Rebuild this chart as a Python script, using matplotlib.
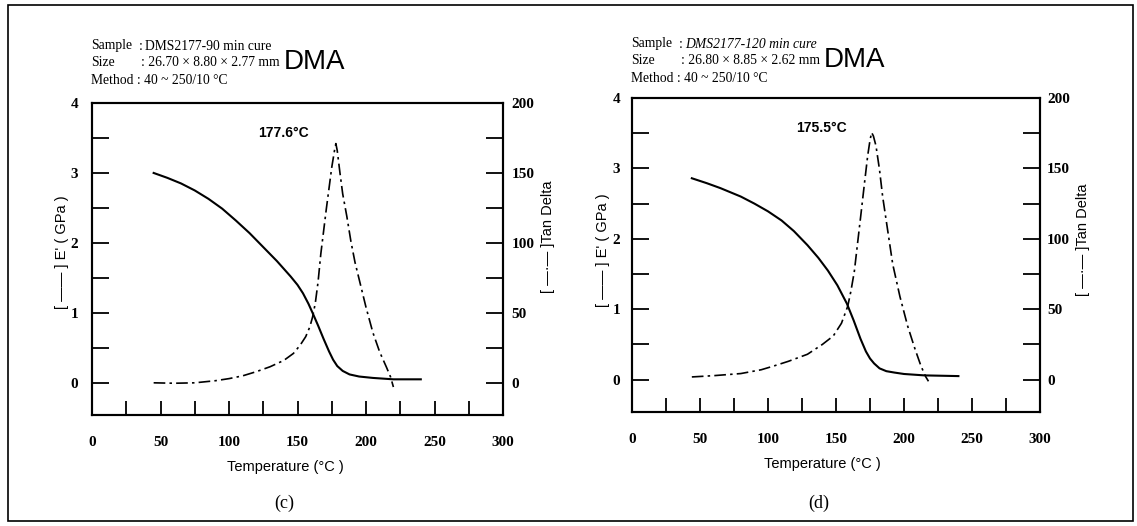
import matplotlib
matplotlib.use('Agg')
import matplotlib.pyplot as plt
from matplotlib.patches import Rectangle

# ---------------- data ----------------
c_E_temp = [45, 55, 65, 75, 85, 95, 105, 115, 125, 135, 140, 145, 150, 154, 158, 161, 165,
            169, 173, 176, 179, 183, 188, 195, 205, 220, 240]
c_E_mod = [3.00, 2.93, 2.85, 2.75, 2.63, 2.49, 2.32, 2.14, 1.94, 1.74, 1.63, 1.52, 1.40,
           1.28, 1.13, 1.00, 0.82, 0.63, 0.45, 0.33, 0.24, 0.17, 0.12, 0.09, 0.07, 0.05, 0.05]
c_tan_temp = [45, 60, 75, 90, 100, 110, 120, 130, 140, 147, 152, 156, 159, 161, 163, 165,
              167, 169, 171, 173, 175, 177, 178, 179, 181, 183, 186, 189, 192, 196, 200,
              205, 210, 215, 218, 220]
c_tan = [0, -0.3, 0, 1.5, 3, 5, 8, 11.5, 16, 21, 27, 33, 40, 47, 57, 72,
         92, 108, 124, 139, 154, 166, 171, 166, 150, 135, 119, 101, 86, 70, 54,
         36, 22, 11, 4, -3]

d_E_temp = [44, 55, 65, 80, 90, 100, 110, 119, 129, 137, 144, 151, 158, 163, 168, 172,
            175, 178, 182, 187, 193, 200, 215, 240]
d_E_mod = [2.86, 2.79, 2.72, 2.60, 2.50, 2.39, 2.26, 2.11, 1.91, 1.73, 1.55, 1.34, 1.08,
           0.84, 0.58, 0.40, 0.30, 0.23, 0.16, 0.12, 0.10, 0.08, 0.06, 0.05]
d_tan_temp = [44, 60, 80, 95, 104, 115, 129, 140, 148, 154, 158.6, 161, 163.5, 166, 168.4,
              171, 173.3, 175, 176.2, 177.5, 179.4, 182, 184.3, 188, 191.7, 197, 202.7,
              208, 212.5, 216, 218]
d_tan = [1.9, 2.8, 4.3, 7, 9.6, 13, 18, 25, 31, 40, 52, 63, 77, 98, 118, 140, 159, 170,
         175.5, 173, 166, 149, 130, 106, 82, 59, 38, 22, 9.6, 2, -1.2]

x_ticks = [0, 50, 100, 150, 200, 250, 300]
x_minor = [25, 75, 125, 175, 225, 275]
e_ticks = [0, 1, 2, 3, 4]
e_minor = [0.5, 1.5, 2.5, 3.5]
tan_ticks = [0, 50, 100, 150, 200]
tan_minor = [25, 75, 125, 175]

c_peak_label = "177.6°C"
d_peak_label = "175.5°C"
c_header = ["DMS2177-90 min cure", "26.70 × 8.80 × 2.77 mm", "40 ~ 250/10 °C"]
d_header = ["DMS2177-120 min cure", "26.80 × 8.85 × 2.62 mm", "40 ~ 250/10 °C"]

# ---------------- figure ----------------
W, H = 1137, 526
fig = plt.figure(figsize=(W / 100, H / 100), dpi=100)

def fx(px):
    return px / W

def fy(py):
    return 1 - py / H

SERIF = 'Liberation Serif'
SANS = 'Liberation Sans'

fig.patches.append(Rectangle((fx(8), fy(521)), fx(1133) - fx(8), fy(5) - fy(521),
                             transform=fig.transFigure, fill=False, lw=1.2, ec='black'))

dashdot = (0, (7, 2.5, 1.5, 2.5))


def panel(l, r, t, b, Et, E, Tt, tan, peak_lab, peak_xy, lpad, rpad):
    ax = fig.add_axes([fx(l), fy(b), fx(r) - fx(l), fy(t) - fy(b)])
    ax.plot(Et, E, color='black', lw=1.5)
    ax.set_xlim(0, 300)
    ax.set_ylim(-0.46, 4.0)
    ax2 = ax.twinx()
    ax2.plot(Tt, tan, color='black', lw=1.2, linestyle=dashdot)
    ax2.set_ylim(-23, 200)

    tfont = dict(fontfamily=SERIF, fontweight='bold', fontsize=11)
    ax.set_xticks(x_ticks, [str(v) for v in x_ticks], **tfont)
    ax.set_xticks(x_minor, minor=True)
    ax.set_yticks(e_ticks, [str(v) for v in e_ticks], **tfont)
    ax.set_yticks(e_minor, minor=True)
    ax2.set_yticks(tan_ticks, [str(v) for v in tan_ticks], **tfont)
    ax2.set_yticks(tan_minor, minor=True)

    ax.tick_params(axis='x', which='both', direction='in', length=10, width=1.3,
                   pad=15, top=False)
    ax.tick_params(axis='y', which='both', direction='in', length=12, width=1.3,
                   pad=lpad, right=False)
    ax2.tick_params(axis='y', which='both', direction='in', length=12, width=1.3,
                    pad=rpad)
    for a in (ax, ax2):
        for s in a.spines.values():
            s.set_linewidth(1.5)

    ax.text(peak_xy[0], peak_xy[1], peak_lab, fontfamily=SANS, fontweight='bold',
            fontsize=10, ha='center', va='center')
    return ax


panel(92, 503, 103, 415, c_E_temp, c_E_mod, c_tan_temp, c_tan,
      c_peak_label, (139.4, 3.57), 10, 6)
panel(632, 1040, 98, 412, d_E_temp, d_E_mod, d_tan_temp, d_tan,
      d_peak_label, (139, 3.57), 8.5, 5)

# headers
def header(x0, ys, vals, italic):
    fs = 9.8
    fig.text(fx(x0), fy(ys[0]), "Sample", fontfamily=SERIF, fontsize=fs, va='center')
    fig.text(fx(x0 + 48), fy(ys[0]), ": ", fontfamily=SERIF, fontsize=fs, va='center')
    fig.text(fx(x0 + 54), fy(ys[0]), vals[0], fontfamily=SERIF, fontsize=fs, va='center',
             style='italic' if italic else 'normal')
    fig.text(fx(x0), fy(ys[1]), "Size", fontfamily=SERIF, fontsize=fs, va='center')
    fig.text(fx(x0 + 50), fy(ys[1]), ": " + vals[1], fontfamily=SERIF, fontsize=fs, va='center')
    fig.text(fx(x0), fy(ys[2]), "Method : " + vals[2], fontfamily=SERIF, fontsize=fs, va='center')
    fig.text(fx(x0 + 193), fy(ys[1] - 1), "DMA", fontfamily=SANS, fontsize=20, va='center')

header(91, [46, 63, 80], c_header, False)
header(631, [44, 61, 78], d_header, True)

# axis labels
lab = dict(fontfamily=SANS, fontsize=10.5, ha='center', va='center')
fig.text(fx(285), fy(467), "Temperature (°C )", **lab)
fig.text(fx(822), fy(464), "Temperature (°C )", **lab)
fig.text(fx(62), fy(252), "[ —— ] E' ( GPa )", rotation=90, **lab)
fig.text(fx(548), fy(237), "[ —·— ]Tan Delta", rotation=90, **lab)
fig.text(fx(603), fy(250), "[ —— ] E' ( GPa )", rotation=90, **lab)
fig.text(fx(1083), fy(240), "[ —·— ]Tan Delta", rotation=90, **lab)

# panel letters
fig.text(fx(284), fy(503), "(c)", fontfamily=SERIF, fontsize=13, ha='center', va='center')
fig.text(fx(819), fy(503), "(d)", fontfamily=SERIF, fontsize=13, ha='center', va='center')

fig.savefig('out.png', dpi=100)
